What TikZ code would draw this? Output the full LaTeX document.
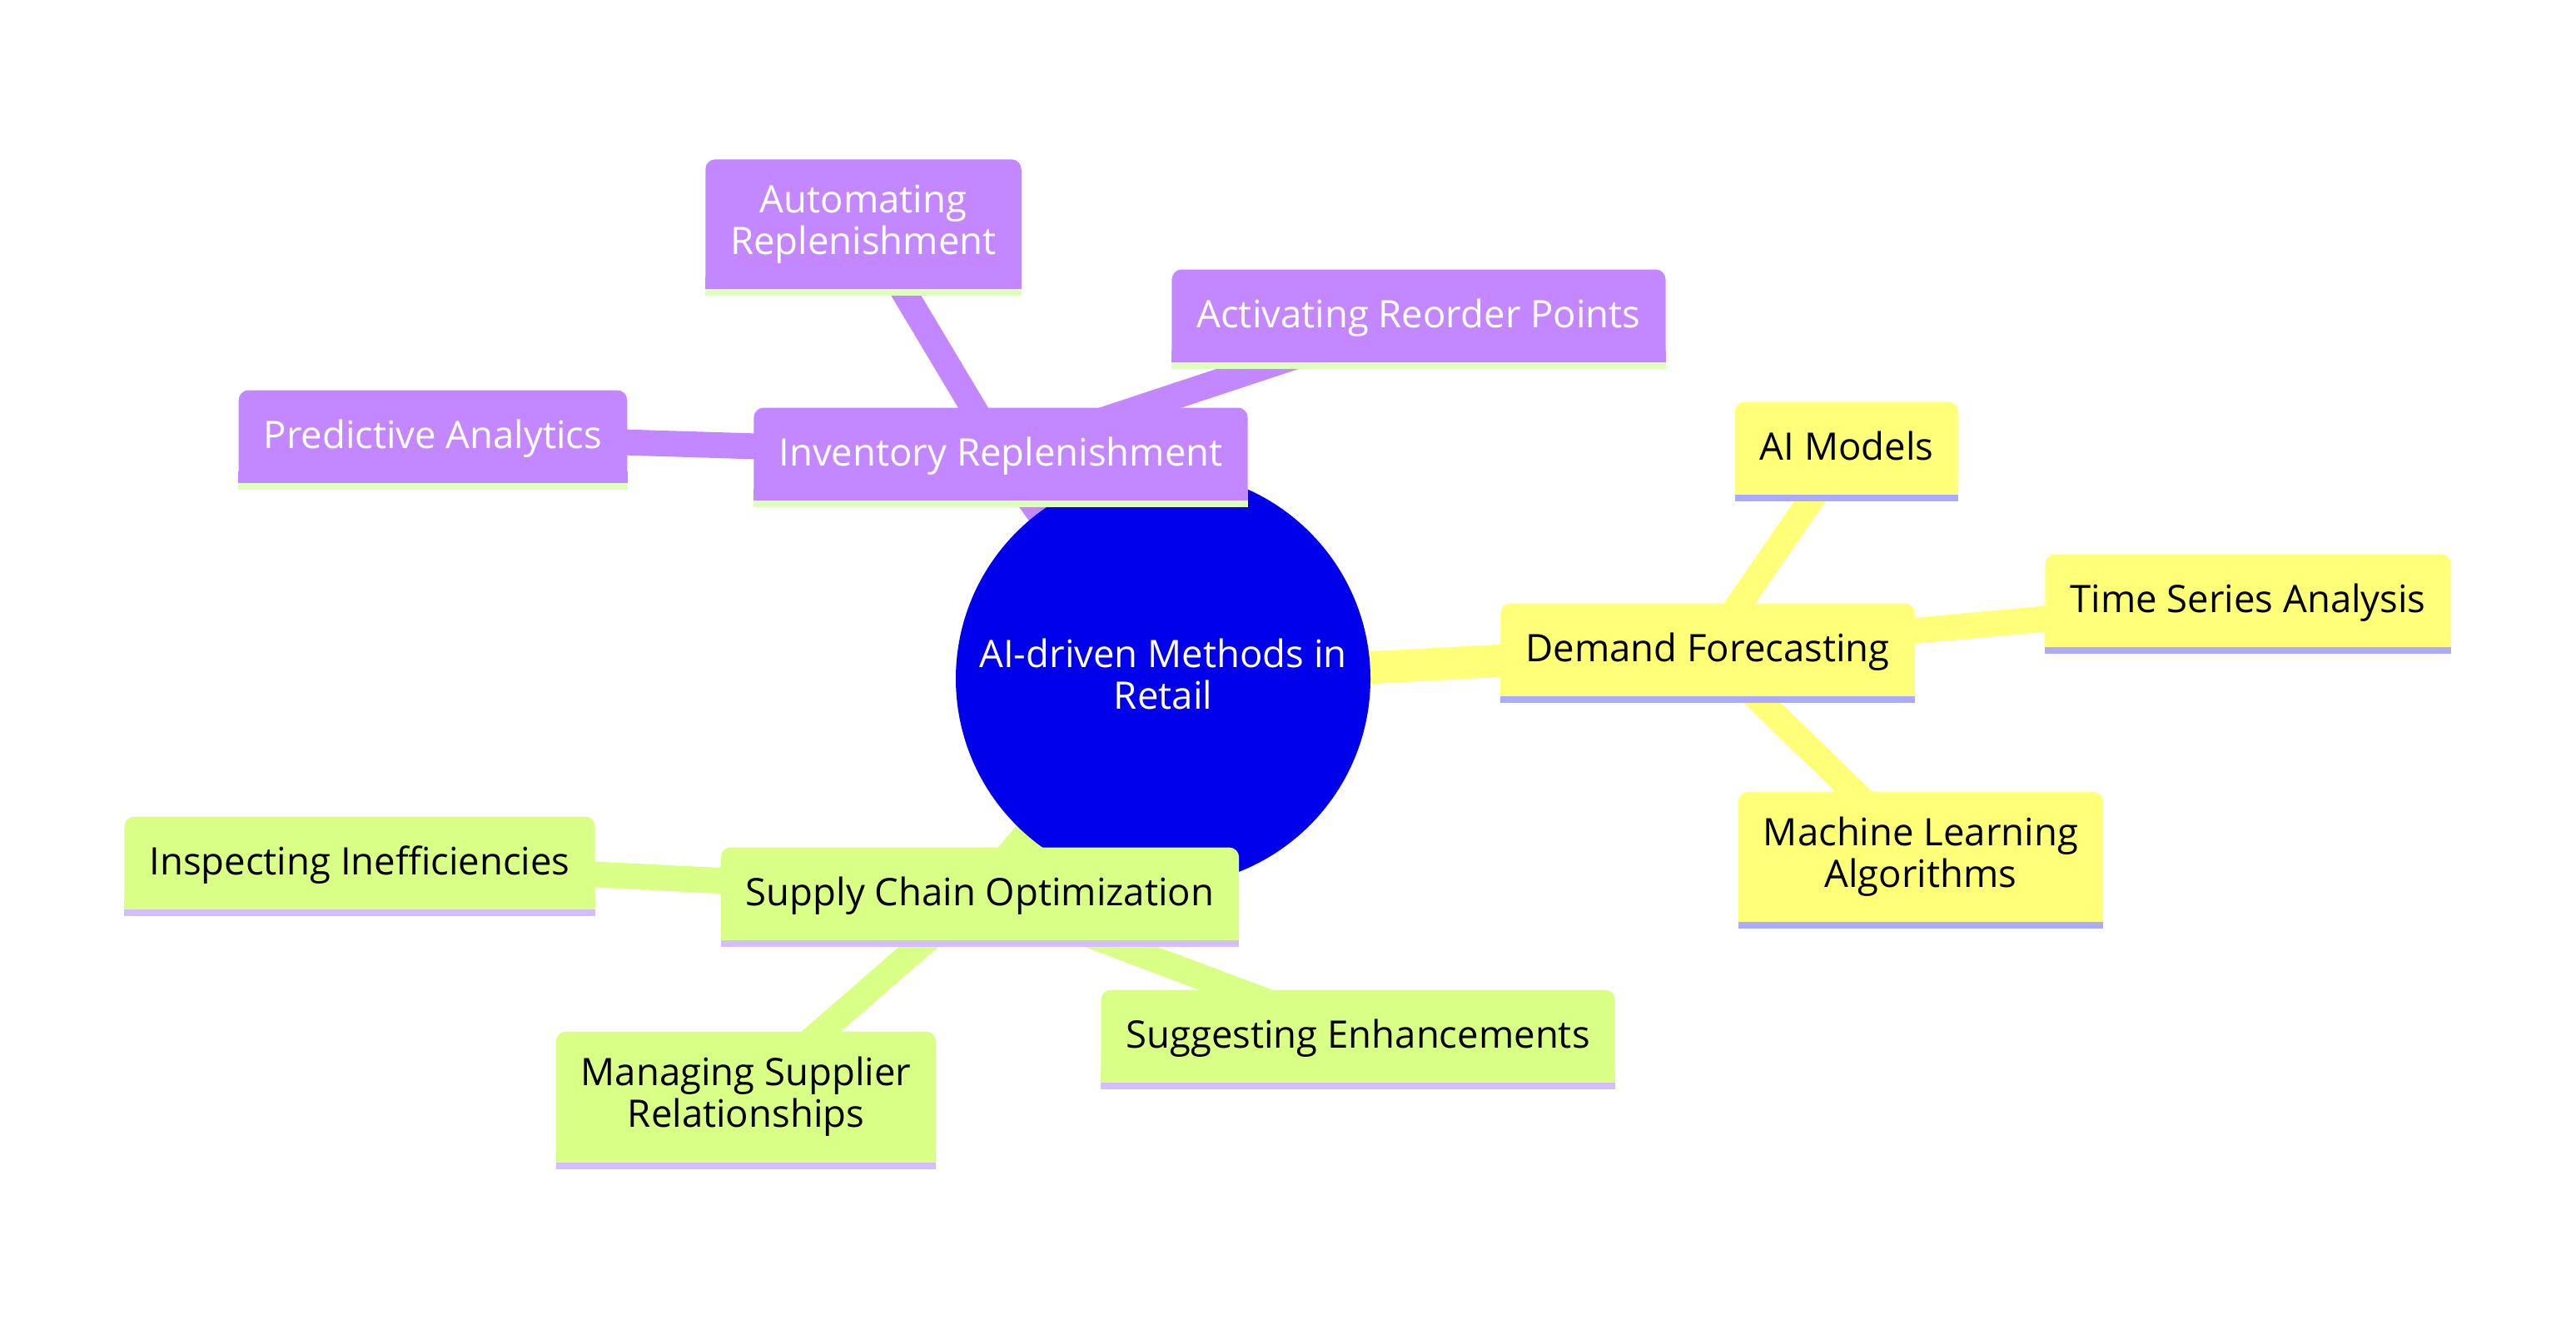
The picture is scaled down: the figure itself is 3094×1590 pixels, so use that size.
\documentclass[tikz,border=0pt]{standalone}
\usepackage{fontspec}
\setmainfont{Open Sans}
\usetikzlibrary{backgrounds}

\definecolor{rootblue}{RGB}{0,0,234}
\definecolor{invfill}{RGB}{195,136,255}
\definecolor{invline}{RGB}{222,255,190}
\definecolor{demfill}{RGB}{255,255,120}
\definecolor{demline}{RGB}{170,170,255}
\definecolor{supfill}{RGB}{217,255,135}
\definecolor{supline}{RGB}{212,190,255}

\newcommand{\boxstrut}{\rule[-11pt]{0pt}{50pt}}

\begin{document}
\begin{tikzpicture}[x=1pt, y=-1pt,
  box/.style={rounded corners=12, inner xsep=30, inner ysep=30.5,
    align=center, font=\fontsize{45.5}{50}\selectfont,
    execute at begin node=\boxstrut, execute at end node=\boxstrut},
  invbox/.style={box, fill=invfill, text=white},
  dembox/.style={box, fill=demfill, text=black},
  supbox/.style={box, fill=supfill, text=black},
  trunk/.style={line width=39},
  twig/.style={line width=31}]

  \useasboundingbox (0,0) rectangle (3094,1590);

  % Root circle
  \node[circle, fill=rootblue, minimum size=498, text=white, align=center,
    font=\fontsize{45.5}{50}\selectfont] (root) at (1397,815) {AI-driven Methods in\\Retail\rule[-12pt]{0pt}{0pt}};

  % Inventory branch
  \node[invbox] (inv)  at (1202,545) {Inventory Replenishment};
  \node[invbox] (auto) at (1037,269) {Automating\\Replenishment};
  \node[invbox] (act)  at (1704,379) {Activating Reorder Points};
  \node[invbox] (pred) at (520,524)  {Predictive Analytics};

  % Demand branch
  \node[dembox] (dem) at (2051,780)  {Demand Forecasting};
  \node[dembox] (aim) at (2218,538)  {AI Models};
  \node[dembox] (tsa) at (2700,721)  {Time Series Analysis};
  \node[dembox] (mla) at (2307,1029) {Machine Learning\\Algorithms};

  % Supply branch
  \node[supbox] (sco) at (1177,1073) {Supply Chain Optimization};
  \node[supbox] (ins) at (432,1036)  {Inspecting Inefficiencies};
  \node[supbox] (msr) at (896,1317)  {Managing Supplier\\Relationships};
  \node[supbox] (sug) at (1631,1244) {Suggesting Enhancements};

  % Square bottom corners and stripes
  \foreach \n/\f/\s in {inv/invfill/invline, auto/invfill/invline, act/invfill/invline,
      pred/invfill/invline, dem/demfill/demline, aim/demfill/demline, tsa/demfill/demline,
      mla/demfill/demline, sco/supfill/supline, ins/supfill/supline, msr/supfill/supline,
      sug/supfill/supline} {
    \fill[\f] ([yshift=14]\n.south west) rectangle (\n.south east);
    \fill[\s] (\n.south west) rectangle ([yshift=-8]\n.south east);
  }

  % Connectors
  \begin{pgfonlayer}{background}
    \draw[trunk, invfill] (root.center) -- (inv.center);
    \draw[trunk, demfill] (root.center) -- (dem.center);
    \draw[trunk, supfill] (root.center) -- (sco.center);
    \foreach \b in {auto, act, pred}
      \draw[twig, invfill] (inv.center) -- (\b.center);
    \foreach \b in {aim, tsa, mla}
      \draw[twig, demfill] (dem.center) -- (\b.center);
    \foreach \b in {ins, msr, sug}
      \draw[twig, supfill] (sco.center) -- (\b.center);
  \end{pgfonlayer}

\end{tikzpicture}
\end{document}
